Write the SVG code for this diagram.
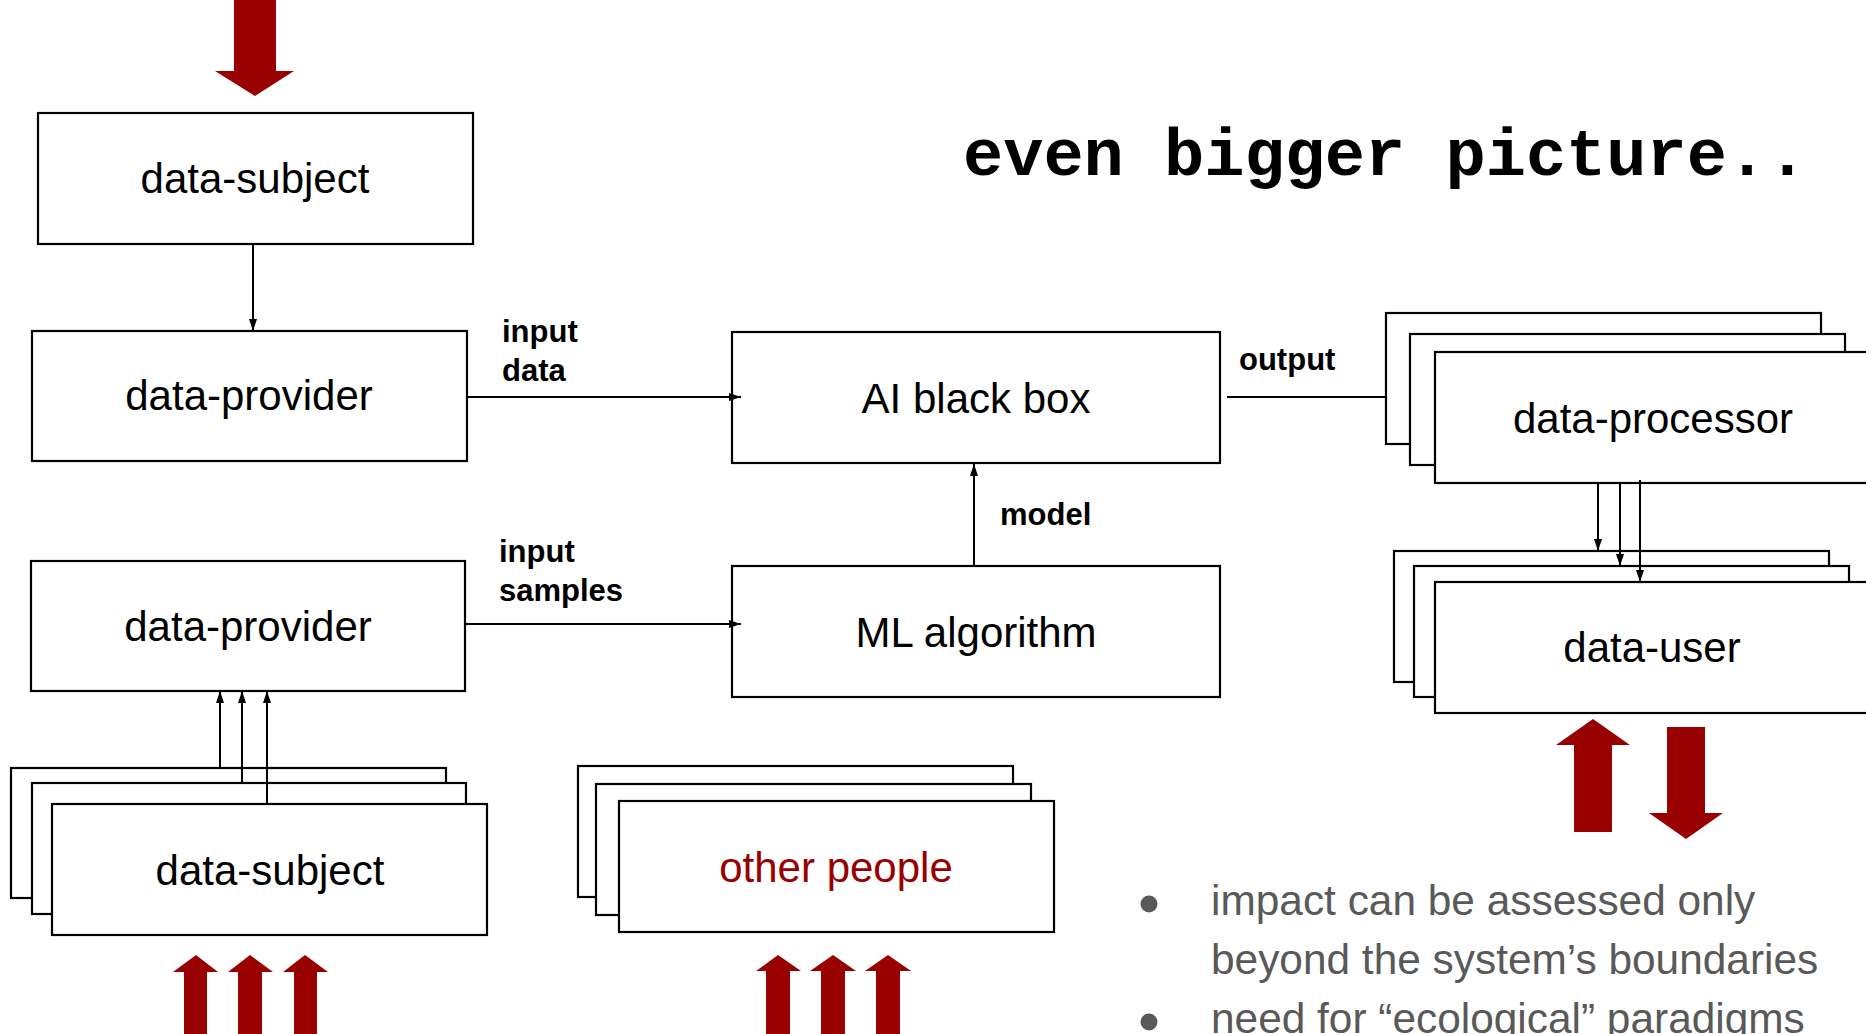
<svg xmlns="http://www.w3.org/2000/svg" width="1866" height="1034" viewBox="0 0 1866 1034">
  <defs>
    <marker id="tip" viewBox="0 0 12 8" refX="12" refY="4" markerWidth="12" markerHeight="8" markerUnits="userSpaceOnUse" orient="auto">
      <path d="M0,0 L12,4 L0,8 Z" fill="#000"/>
    </marker>
    <style>
      .box { fill: #fff; stroke: #000; stroke-width: 2.2; }
      .node { font-family: "Liberation Sans", Arial, sans-serif; font-size: 42px; fill: #000; text-anchor: middle; }
      .red { fill: #990000; }
      .lbl { font-family: "Liberation Sans", Arial, sans-serif; font-size: 31px; font-weight: bold; fill: #000; }
      .edge { fill: none; stroke: #000; stroke-width: 2; }
      .arrow { marker-end: url(#tip); }
      .bullet { font-family: "Liberation Sans", Arial, sans-serif; font-size: 42.4px; fill: #595959; }
      .title { font-family: "Liberation Mono", "Courier New", monospace; font-size: 67px; font-weight: bold; fill: #000; }
    </style>
  </defs>

  <rect width="1866" height="1034" fill="#fff"/>

  <text class="title" x="963" y="175">even bigger picture..</text>

  <!-- nodes -->
  <g id="data-subject-top">
    <rect class="box" x="38" y="113" width="435" height="131"/>
    <text class="node" x="255" y="193">data-subject</text>
  </g>

  <g id="data-provider-data">
    <rect class="box" x="32" y="331" width="435" height="130"/>
    <text class="node" x="249" y="410">data-provider</text>
  </g>

  <g id="data-provider-samples">
    <rect class="box" x="31" y="561" width="434" height="130"/>
    <text class="node" x="248" y="641">data-provider</text>
  </g>

  <g id="data-subjects">
    <rect class="box" x="11" y="768" width="435" height="130"/>
    <rect class="box" x="32" y="783" width="434" height="131"/>
    <rect class="box" x="52" y="804" width="435" height="131"/>
    <text class="node" x="270" y="885">data-subject</text>
  </g>

  <g id="other-people">
    <rect class="box" x="578" y="766" width="435" height="131"/>
    <rect class="box" x="596" y="784" width="435" height="131"/>
    <rect class="box" x="619" y="801" width="435" height="131"/>
    <text class="node" x="836" y="882" style="fill:#990000">other people</text>
  </g>

  <g id="ai-black-box">
    <rect class="box" x="732" y="332" width="488" height="131"/>
    <text class="node" x="976" y="413">AI black box</text>
  </g>

  <g id="ml-algorithm">
    <rect class="box" x="732" y="566" width="488" height="131"/>
    <text class="node" x="976" y="647">ML algorithm</text>
  </g>

  <g id="data-processors">
    <rect class="box" x="1386" y="313" width="435" height="131"/>
    <rect class="box" x="1410" y="334" width="435" height="131"/>
    <rect class="box" x="1435" y="352" width="440" height="131"/>
    <text class="node" x="1653" y="433">data-processor</text>
  </g>

  <g id="data-users">
    <rect class="box" x="1394" y="551" width="435" height="131"/>
    <rect class="box" x="1414" y="566" width="435" height="131"/>
    <rect class="box" x="1435" y="582" width="440" height="131"/>
    <text class="node" x="1652" y="662">data-user</text>
  </g>

  <!-- connectors -->
  <g id="connectors">
    <line class="edge arrow" x1="253" y1="244" x2="253" y2="331"/>
    <line class="edge arrow" x1="467" y1="397" x2="741" y2="397"/>
    <line class="edge arrow" x1="465" y1="624" x2="741" y2="624"/>
    <line class="edge arrow" x1="974" y1="566" x2="974" y2="464"/>
    <line class="edge" x1="1227" y1="397" x2="1386" y2="397"/>
    <line class="edge arrow" x1="220" y1="768" x2="220" y2="691"/>
    <line class="edge arrow" x1="242" y1="783" x2="242" y2="691"/>
    <line class="edge arrow" x1="267" y1="804" x2="267" y2="691"/>
    <line class="edge arrow" x1="1598" y1="483" x2="1598" y2="551"/>
    <line class="edge arrow" x1="1620" y1="483" x2="1620" y2="566"/>
    <line class="edge arrow" x1="1640" y1="480" x2="1640" y2="582"/>
  </g>

  <!-- connector labels -->
  <g id="labels">
    <text class="lbl" x="502" y="342">input</text>
    <text class="lbl" x="502" y="381">data</text>
    <text class="lbl" x="499" y="562">input</text>
    <text class="lbl" x="499" y="601">samples</text>
    <text class="lbl" x="1239" y="370">output</text>
    <text class="lbl" x="1000" y="525">model</text>
  </g>

  <!-- block arrows -->
  <g id="block-arrows" class="red">
    <polygon points="234,0 276,0 276,71 294,71 255,96 215,71 234,71"/>
    <polygon points="184,1034 184,972 173,972 196,955 218,972 207,972 207,1034"/>
    <polygon points="238,1034 238,972 228,972 250,955 273,972 262,972 262,1034"/>
    <polygon points="294,1034 294,972 283,972 305,955 328,972 317,972 317,1034"/>
    <polygon points="766,1034 766,971 756,971 778,955 801,971 790,971 790,1034"/>
    <polygon points="821,1034 821,971 810,971 833,955 856,971 845,971 845,1034"/>
    <polygon points="876,1034 876,971 865,971 888,955 911,971 900,971 900,1034"/>
    <polygon points="1574,832 1574,745 1556,745 1593,719 1630,745 1612,745 1612,832"/>
    <polygon points="1667,727 1705,727 1705,813 1723,813 1686,839 1649,813 1667,813"/>
  </g>

  <!-- notes -->
  <g id="notes">
    <circle cx="1149" cy="904" r="8.5" fill="#595959"/>
    <circle cx="1149" cy="1022" r="8.5" fill="#595959"/>
    <text class="bullet" x="1211" y="915">impact can be assessed only</text>
    <text class="bullet" x="1211" y="974">beyond the system’s boundaries</text>
    <text class="bullet" x="1211" y="1033">need for “ecological” paradigms</text>
  </g>
</svg>
